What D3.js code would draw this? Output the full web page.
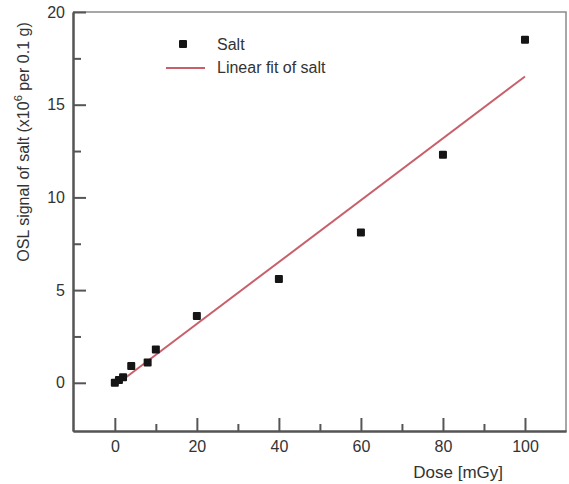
<!DOCTYPE html>
<html>
<head>
<meta charset="utf-8">
<script src="https://cdn.jsdelivr.net/npm/d3@7"></script>
<style>
  body { margin: 0; background: #fff; }
  svg text { font-family: "Liberation Sans", Arial, Helvetica, sans-serif; fill: #333; }
</style>
</head>
<body>
<svg id="chart" width="569" height="484"></svg>
<script>
// data
const doses = [0, 1, 2, 4, 8, 10, 20, 40, 60, 80, 100];
const signals = [0, 0.15, 0.3, 0.9, 1.1, 1.8, 3.6, 5.6, 8.1, 12.3, 18.5];
const fitDoses = [0, 100];
const fitSignals = [-0.16, 16.52];
const xTicks = [0, 20, 40, 60, 80, 100];
const xMinorTicks = [10, 30, 50, 70, 90];
const yTicks = [0, 5, 10, 15, 20];
const yMinorTicks = [2.5, 7.5, 12.5, 17.5];

const svg = d3.select("#chart");

const plot = { left: 73, right: 566, top: 12, bottom: 431 };

const xScale = d3.scaleLinear().domain([-10.2, 110]).range([plot.left, plot.right]);
const yScale = d3.scaleLinear().domain([-2.6, 20]).range([plot.bottom, plot.top]);

// top and right frame
svg.append("path")
  .attr("d", `M${plot.left},${plot.top}H${plot.right}V${plot.bottom}`)
  .attr("fill", "none")
  .attr("stroke", "#8a8a8a")
  .attr("stroke-width", 1.5);

// bottom axis, ticks pointing inward
const xAxis = svg.append("g")
  .attr("transform", `translate(0,${plot.bottom})`)
  .call(d3.axisBottom(xScale).tickValues(xTicks).tickSizeInner(-13).tickSizeOuter(0).tickPadding(10));
xAxis.append("g")
  .call(d3.axisBottom(xScale).tickValues(xMinorTicks).tickSizeInner(-7).tickSizeOuter(0).tickFormat(""));

// left axis, ticks pointing inward
const yAxis = svg.append("g")
  .attr("transform", `translate(${plot.left},0)`)
  .call(d3.axisLeft(yScale).tickValues(yTicks).tickSizeInner(-13).tickSizeOuter(0).tickPadding(8));
yAxis.append("g")
  .call(d3.axisLeft(yScale).tickValues(yMinorTicks).tickSizeInner(-8).tickSizeOuter(0).tickFormat(""));

svg.selectAll(".domain").attr("stroke", "#555").attr("stroke-width", 2);
svg.selectAll(".tick line").attr("stroke", "#555").attr("stroke-width", 2);
svg.selectAll(".tick text").attr("font-size", 16).style("fill", "#333");

// fit line
const line = d3.line().x(d => xScale(d[0])).y(d => yScale(d[1]));
svg.append("path")
  .datum(d3.zip(fitDoses, fitSignals))
  .attr("d", line)
  .attr("fill", "none")
  .attr("stroke", "#c8606c")
  .attr("stroke-width", 2);

// data points
const size = 8;
svg.selectAll(".pt")
  .data(d3.zip(doses, signals))
  .enter()
  .append("rect")
  .attr("x", d => xScale(d[0]) - size / 2)
  .attr("y", d => yScale(d[1]) - size / 2)
  .attr("width", size)
  .attr("height", size)
  .attr("rx", 1)
  .attr("fill", "#151515");

// legend
svg.append("rect")
  .attr("x", 179).attr("y", 40).attr("width", 8).attr("height", 8).attr("rx", 1)
  .attr("fill", "#151515");
svg.append("text").attr("x", 217).attr("y", 50).attr("font-size", 16).text("Salt");
svg.append("line")
  .attr("x1", 166).attr("x2", 205).attr("y1", 68).attr("y2", 68)
  .attr("stroke", "#c8606c").attr("stroke-width", 2);
svg.append("text").attr("x", 217).attr("y", 73).attr("font-size", 16).text("Linear fit of salt");

// axis titles
svg.append("text")
  .attr("x", 503).attr("y", 478)
  .attr("text-anchor", "end")
  .attr("font-size", 17)
  .text("Dose [mGy]");

const yTitle = svg.append("text")
  .attr("transform", "translate(29,142) rotate(-90)")
  .attr("text-anchor", "middle")
  .attr("font-size", 16);
yTitle.append("tspan").text("OSL signal of salt (x10");
yTitle.append("tspan").attr("dy", -7).attr("font-size", 11).text("6");
yTitle.append("tspan").attr("dy", 7).text(" per 0.1 g)");
</script>
</body>
</html>
